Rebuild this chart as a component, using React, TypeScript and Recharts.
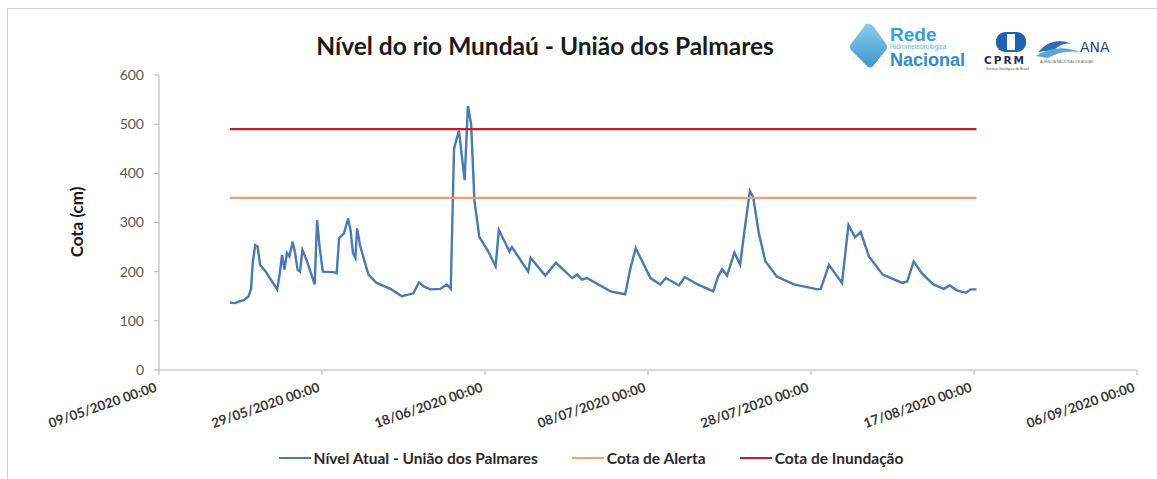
import { LineChart, Line, XAxis, YAxis } from "recharts";

// dias contados a partir de 09/05/2020 00:00
const dias = [
  8.7, 9.3, 9.8, 10.4, 11.0, 11.3, 11.5, 11.8, 12.1, 12.4, 13.1, 14.5, 14.8, 15.1, 15.4, 15.7, 16.0,
  16.4, 16.7, 17.0, 17.3, 17.6, 18.1, 19.1, 19.4, 19.7, 20.1, 21.4, 21.8, 22.1, 22.7, 23.2, 23.5,
  23.8, 24.1, 24.3, 24.7, 25.7, 26.7, 28.4, 29.8, 31.2, 31.9, 32.6, 33.3, 34.5, 35.3, 35.8, 36.2,
  36.8, 37.5, 37.9, 38.3, 38.7, 39.3, 40.3, 41.3, 41.7, 43.0, 43.3, 45.3, 45.6, 47.4, 48.7, 50.7,
  51.3, 51.9, 52.5, 55.4, 57.2, 57.8, 58.5, 59.0, 60.3, 61.5, 62.2, 63.8, 64.5, 66.1, 68.0, 68.6,
  69.1, 69.7, 70.6, 71.3, 71.9, 72.5, 72.9, 73.6, 74.4, 75.8, 77.9, 80.8, 81.2, 82.2, 83.8, 84.6,
  85.4, 86.1, 87.1, 88.8, 91.2, 91.8, 92.6, 93.6, 95.0, 96.3, 97.0, 97.9, 99.0, 99.6, 100.3,
];

const nivel = [
  137, 136, 139, 142, 150, 165, 218, 254, 251, 214, 200, 164, 194, 234, 204, 238, 231,
  261, 238, 204, 200, 244, 224, 174, 305, 251, 200, 199, 197, 268, 278, 308, 285,
  238, 228, 288, 251, 194, 177, 165, 150, 156, 178, 169, 164, 165, 174, 165, 450,
  487, 386, 537, 500, 345, 271, 244, 211, 285, 241, 250, 200, 228, 192, 218, 187,
  194, 184, 187, 160, 154, 204, 248, 231, 187, 174, 187, 172, 189, 174, 160, 190,
  205, 192, 239, 214, 291, 364, 352, 278, 221, 190, 174, 164, 165, 214, 177, 295,
  270, 281, 231, 194, 177, 180, 221, 197, 174, 165, 172, 162, 157, 164, 164,
];

const cotaAlerta = 350;
const cotaInundacao = 490;

const xTicks = [0, 20, 40, 60, 80, 100, 120];
const yTicks = [0, 100, 200, 300, 400, 500, 600];

const data = dias.map((d, i) => ({
  dia: d,
  nivel: nivel[i],
  alerta: cotaAlerta,
  inundacao: cotaInundacao,
}));

const inicio = Date.UTC(2020, 4, 9);

function formatDate(d: number) {
  const dt = new Date(inicio + d * 86400000);
  const dd = String(dt.getUTCDate()).padStart(2, "0");
  const mm = String(dt.getUTCMonth() + 1).padStart(2, "0");
  return `${dd}/${mm}/${dt.getUTCFullYear()} 00:00`;
}

const font = "Lato, 'Open Sans', sans-serif";

function DateTick(props: any) {
  const { x, y, payload } = props;
  return (
    <g transform={`translate(${x},${y})`}>
      <text
        x={-6}
        y={13}
        textAnchor="end"
        transform="rotate(-19)"
        fontSize={13.5}
        fontWeight={700}
        fill="#383838"
        fontFamily={font}
      >
        {formatDate(payload.value)}
      </text>
    </g>
  );
}

function LegendItem({ color, label }: { color: string; label: string }) {
  return (
    <div style={{ display: "flex", alignItems: "center", gap: 3 }}>
      <div style={{ width: 32, height: 2.5, background: color }} />
      <span>{label}</span>
    </div>
  );
}

function Logos() {
  return (
    <svg width={300} height={70} style={{ position: "absolute", left: 840, top: 10 }}>
      <defs>
        <linearGradient id="rede" x1="0" y1="0" x2="0" y2="1">
          <stop offset="0" stopColor="#8ccbea" />
          <stop offset="1" stopColor="#3d98cf" />
        </linearGradient>
      </defs>
      <path d="M26 14 Q30 12 34 17 L46 34 Q48 37 46 40 L34 55 Q30 60 26 55 L11 40 Q9 37 11 34 Z" fill="url(#rede)" />
      <text x={50} y={31} fontSize={19} fontWeight={700} fill="#3aa0d4" fontFamily="'Liberation Sans Narrow', sans-serif">
        Rede
      </text>
      <text x={50} y={39} fontSize={6.5} fill="#63b6df" fontFamily="'Liberation Sans Narrow', sans-serif">
        Hidrometeorológica
      </text>
      <text x={50} y={56} fontSize={18} fontWeight={700} fill="#2f8fca" fontFamily="'Liberation Sans Narrow', sans-serif">
        Nacional
      </text>
      <rect x={156} y={22} width={30} height={20} rx={9} fill="#1f62b0" />
      <rect x={167} y={24} width={8} height={16} fill="#fff" />
      <text x={144} y={54} fontSize={10.5} fontWeight={700} fill="#1f2d66" fontFamily="'DejaVu Sans', sans-serif" letterSpacing={2}>
        CPRM
      </text>
      <text x={146} y={60} fontSize={3.5} fill="#555" fontFamily="sans-serif">
        Serviço Geológico do Brasil
      </text>
      <path d="M198 42 Q213 25 232 34 Q223 32 214 40 Z" fill="#2d6fb5" />
      <path d="M196 46 Q216 33 240 42 Q222 40 208 48 Z" fill="#5aa6dc" />
      <text x={240} y={42} fontSize={14} fill="#2c3f86" fontFamily="'DejaVu Sans', sans-serif">
        ANA
      </text>
      <text x={200} y={53} fontSize={3.5} fill="#666" fontFamily="sans-serif">
        AGÊNCIA NACIONAL DE ÁGUAS
      </text>
    </svg>
  );
}

export default function App() {
  return (
    <div
      style={{
        position: "fixed",
        left: 0,
        top: 0,
        width: 1157,
        height: 479,
        overflow: "hidden",
        background: "#fff",
        fontFamily: font,
      }}
    >
      <div
        style={{
          position: "absolute",
          left: 7,
          top: 8,
          width: 1200,
          height: 500,
          borderLeft: "1px solid #cfcfcf",
          borderTop: "1px solid #cfcfcf",
        }}
      />
      <div
        style={{
          position: "absolute",
          left: 245,
          width: 600,
          top: 31,
          textAlign: "center",
          fontSize: 24.5,
          fontWeight: 700,
          color: "#1a1a1a",
        }}
      >
        Nível do rio Mundaú - União dos Palmares
      </div>
      <Logos />
      <div
        style={{
          position: "absolute",
          left: 76,
          top: 222,
          transform: "translate(-50%, -50%) rotate(-90deg)",
          fontSize: 17,
          fontWeight: 700,
          color: "#1a1a1a",
          whiteSpace: "nowrap",
        }}
      >
        Cota (cm)
      </div>
      <LineChart
        width={1157}
        height={479}
        data={data}
        margin={{ top: 75, right: 20, bottom: 69, left: 99 }}
        style={{ position: "absolute", left: 0, top: 0 }}
      >
        <XAxis
          dataKey="dia"
          type="number"
          domain={[0, 120]}
          ticks={xTicks}
          interval={0}
          height={40}
          tick={<DateTick />}
          tickSize={5}
          axisLine={{ stroke: "#b5b5b5" }}
          tickLine={{ stroke: "#b5b5b5" }}
        />
        <YAxis
          type="number"
          domain={[0, 600]}
          ticks={yTicks}
          interval={0}
          width={60}
          tickSize={5}
          tickMargin={10}
          tick={{ fontSize: 14, fill: "#595959", fontFamily: font }}
          axisLine={{ stroke: "#b5b5b5" }}
          tickLine={{ stroke: "#b5b5b5" }}
        />
        <Line
          type="linear"
          dataKey="nivel"
          stroke="#4a79b3"
          strokeWidth={2.4}
          dot={false}
          isAnimationActive={false}
        />
        <Line
          type="linear"
          dataKey="alerta"
          stroke="#f0a060"
          strokeWidth={2.3}
          dot={false}
          isAnimationActive={false}
        />
        <Line
          type="linear"
          dataKey="inundacao"
          stroke="#c41f2b"
          strokeWidth={2.3}
          dot={false}
          isAnimationActive={false}
        />
      </LineChart>
      <div
        style={{
          position: "absolute",
          left: 0,
          width: 1182,
          top: 449,
          display: "flex",
          justifyContent: "center",
          gap: 34,
          fontSize: 15.5,
          fontWeight: 700,
          color: "#2a2a2a",
        }}
      >
        <LegendItem color="#4a79b3" label="Nível Atual - União dos Palmares" />
        <LegendItem color="#f0a060" label="Cota de Alerta" />
        <LegendItem color="#c41f2b" label="Cota de Inundação" />
      </div>
    </div>
  );
}
